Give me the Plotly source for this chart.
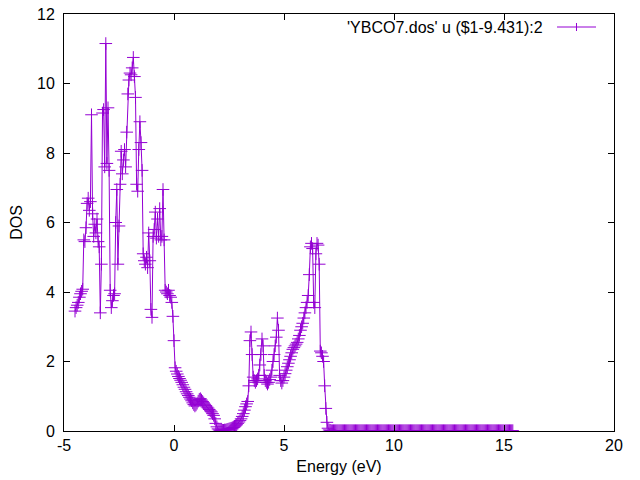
import numpy as np
import plotly.graph_objects as go

# Energy grid: start and step of the DOS file (eV, shifted by Fermi level)
E_START = -4.50
E_STEP = 0.05

# DOS values, E = -4.50 ... 7.15
dos_main = [
    3.45, 3.55, 3.62, 3.70, 3.85, 3.95, 4.02, 4.08,            # -4.50 .. -4.15
    5.50, 5.45, 5.85, 6.55, 6.70, 6.35, 6.60, 9.10,            # -4.10 .. -3.75
    6.25, 5.60, 5.95, 5.70, 6.10, 5.45, 5.30, 3.40,            # -3.70 .. -3.35
    4.80, 9.15, 9.25, 7.60, 11.15, 7.70, 9.30, 7.50,           # -3.30 .. -2.95
    4.05, 3.55, 3.75, 3.90, 3.95, 6.00, 6.95, 4.80,            # -2.90 .. -2.55
    5.90, 7.10, 8.05, 7.40, 7.80, 8.10, 7.60, 8.60,            # -2.50 .. -2.15
    9.70, 10.10, 10.30, 10.25, 10.45, 10.75, 10.20, 9.60,      # -2.10 .. -1.75
    7.10, 6.90, 8.10, 8.90, 8.30, 7.50, 5.10, 4.90,            # -1.70 .. -1.35
    4.80, 5.00, 4.70, 5.70, 4.90, 3.50, 3.27, 5.60,            # -1.30 .. -0.95
    5.80, 6.30, 5.55, 6.10, 5.60, 6.40, 5.50, 5.60,            # -0.90 .. -0.55
    6.95, 5.50, 4.05, 4.00, 3.95, 4.05, 3.90, 3.85,            # -0.50 .. -0.15
    3.70, 3.30,                                                # -0.10 .. -0.05
    2.60, 1.82, 1.72, 1.64, 1.57, 1.51, 1.46, 1.40,            # 0.00 .. 0.35
    1.33, 1.26, 1.20, 1.13, 1.07, 1.02, 0.97, 0.92,            # 0.40 .. 0.75
    0.87, 0.81, 0.76, 0.72, 0.75, 0.80, 0.86, 0.91,            # 0.80 .. 1.15
    0.93, 0.89, 0.85, 0.81, 0.77, 0.73, 0.69, 0.66,            # 1.20 .. 1.55
    0.62, 0.58, 0.55, 0.50, 0.45, 0.35, 0.22, 0.12,            # 1.60 .. 1.95
    0.06, 0.03, 0.02, 0.02, 0.02, 0.02, 0.03, 0.03,            # 2.00 .. 2.35
    0.04, 0.05, 0.06, 0.07, 0.08, 0.09, 0.10, 0.12,            # 2.40 .. 2.75
    0.15, 0.18, 0.22, 0.26, 0.30, 0.35, 0.42, 0.50,            # 2.80 .. 3.15
    0.60, 0.70, 0.78, 0.85, 1.30, 2.60, 2.85, 2.20,            # 3.20 .. 3.55
    1.55, 1.45, 1.40, 1.45, 1.50, 1.60, 1.90, 2.20,            # 3.60 .. 3.95
    2.65, 2.45, 1.60, 1.45, 1.40, 1.35, 1.40, 1.48,            # 4.00 .. 4.35
    1.55, 1.75, 2.00, 2.20, 2.45, 2.70, 3.25, 2.90,            # 4.40 .. 4.75
    1.60, 1.45, 1.38, 1.45,                                    # 4.80 .. 4.95
    1.55, 1.65, 1.75, 1.85, 1.95, 2.05, 2.15, 2.25,            # 5.00 .. 5.35
    2.35, 2.40,                                                # 5.40 .. 5.45
    2.45, 2.50, 2.55, 2.65, 2.75, 2.90, 3.00, 3.10,            # 5.50 .. 5.85
    3.25, 3.40, 3.55, 3.70, 3.90, 4.50, 5.30, 5.40,            # 5.90 .. 6.25
    5.25, 3.70, 3.55, 5.10, 5.40, 5.35, 4.80, 2.30,            # 6.30 .. 6.65
    2.25, 2.15, 2.00, 1.30, 0.65, 0.25, 0.08, 0.03,            # 6.70 .. 7.05
    0.02, 0.01,                                                # 7.10 .. 7.15
]

# DOS values of the empty tail, E = 7.20 ... 15.40
dos_tail = [
    0.01, 0.01, 0.01, 0.01, 0.01, 0.01, 0.01, 0.01, 0.01, 0.01, 0.01, 0.01, 0.01, 0.01, 0.01,
    0.01, 0.01, 0.01, 0.01, 0.01, 0.01, 0.01, 0.01, 0.01, 0.01, 0.01, 0.01, 0.01, 0.01, 0.01,
    0.01, 0.01, 0.01, 0.01, 0.01, 0.01, 0.01, 0.01, 0.01, 0.01, 0.01, 0.01, 0.01, 0.01, 0.01,
    0.01, 0.01, 0.01, 0.01, 0.01, 0.01, 0.01, 0.01, 0.01, 0.01, 0.01, 0.01, 0.01, 0.01, 0.01,
    0.01, 0.01, 0.01, 0.01, 0.01, 0.01, 0.01, 0.01, 0.01, 0.01, 0.01, 0.01, 0.01, 0.01, 0.01,
    0.01, 0.01, 0.01, 0.01, 0.01, 0.01, 0.01, 0.01, 0.01, 0.01, 0.01, 0.01, 0.01, 0.01, 0.01,
    0.01, 0.01, 0.01, 0.01, 0.01, 0.01, 0.01, 0.01, 0.01, 0.01, 0.01, 0.01, 0.01, 0.01, 0.01,
    0.01, 0.01, 0.01, 0.01, 0.01, 0.01, 0.01, 0.01, 0.01, 0.01, 0.01, 0.01, 0.01, 0.01, 0.01,
    0.01, 0.01, 0.01, 0.01, 0.01, 0.01, 0.01, 0.01, 0.01, 0.01, 0.01, 0.01, 0.01, 0.01, 0.01,
    0.01, 0.01, 0.01, 0.01, 0.01, 0.01, 0.01, 0.01, 0.01, 0.01, 0.01, 0.01, 0.01, 0.01, 0.01,
    0.01, 0.01, 0.01, 0.01, 0.01, 0.01, 0.01, 0.01, 0.01, 0.01, 0.01, 0.01, 0.01, 0.01, 0.01,
]

x_ticks = [-5, 0, 5, 10, 15, 20]
y_ticks = [0, 2, 4, 6, 8, 10, 12]
legend_label = "'YBCO7.dos' u ($1-9.431):2"
x_title = "Energy (eV)"
y_title = "DOS"

dos = np.array(dos_main + dos_tail)
energy = np.round(E_START + E_STEP * np.arange(len(dos)), 3)

COLOR = "#9400D3"
FONT = "Liberation Sans, Arial, sans-serif"

fig = go.Figure()
fig.add_trace(go.Scatter(
    x=energy, y=dos, mode="lines+markers",
    line=dict(color=COLOR, width=1),
    marker=dict(symbol="cross-thin", size=9, line=dict(color=COLOR, width=1)),
    showlegend=False,
))

axis_common = dict(
    showline=True, linecolor="black", linewidth=1, mirror="ticks",
    ticks="inside", ticklen=6, tickcolor="black", tickwidth=1,
    showgrid=False, zeroline=False, ticklabeloverflow="allow",
    tickfont=dict(family=FONT, size=16, color="black"),
)

# The page places the figure 8 px from the top-left corner, so the figure is
# 632x472 and the plot area sits at x 64..614, y 14..431 of the 640x480 window.
fig.update_layout(
    width=632, height=472,
    margin=dict(l=56, r=26, t=6, b=49, autoexpand=False),
    paper_bgcolor="white", plot_bgcolor="white",
    font=dict(family=FONT, size=16, color="black"),
    xaxis=dict(range=[-5, 20], tickvals=x_ticks, ticktext=[str(v) for v in x_ticks],
               title=dict(text=x_title, standoff=7, font=dict(size=16)), **axis_common),
    yaxis=dict(range=[0, 12], tickvals=y_ticks, ticktext=[str(v) for v in y_ticks],
               ticklabelstandoff=5,
               title=dict(text=y_title, standoff=20, font=dict(size=16)), **axis_common),
)

# gnuplot-style key: text on the left, sample on the right (top-right corner)
fig.add_annotation(xref="paper", yref="paper", x=0.8745, y=0.9688,
                   text=legend_label, showarrow=False, xanchor="right", yanchor="middle",
                   font=dict(family=FONT, size=16, color="black"))
fig.add_shape(type="line", xref="paper", yref="paper", x0=0.8964, x1=0.9673,
              y0=0.9688, y1=0.9688, line=dict(color=COLOR, width=1))
fig.add_shape(type="line", xref="paper", yref="paper", x0=0.9318, x1=0.9318,
              y0=0.9592, y1=0.9784, line=dict(color=COLOR, width=1))

fig.write_html("out.html")
